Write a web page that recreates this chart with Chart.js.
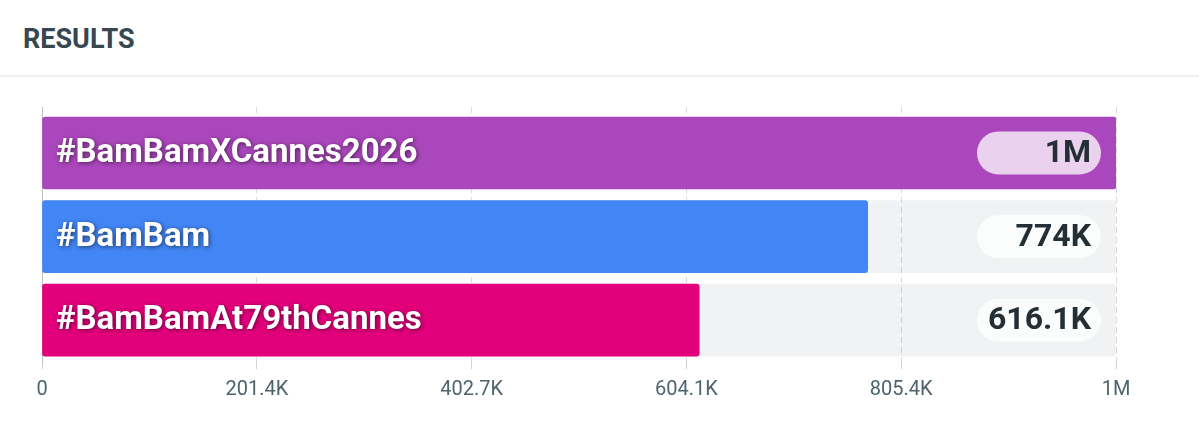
<!DOCTYPE html>
<html>
<head>
<meta charset="utf-8">
<script src="https://cdn.jsdelivr.net/npm/chart.js@4"></script>
<style>
  html, body { margin: 0; padding: 0; background: #fff; }
  body { width: 1199px; height: 431px; position: relative; overflow: hidden; font-family: Roboto, sans-serif; }
  .header { position: absolute; left: 0; top: 0; width: 1199px; height: 75px; border-bottom: 2px solid #eeeff1; }
  .header h2 { margin: 0; position: absolute; left: 23px; top: 23px; font-size: 27px; line-height: 32px; font-weight: 700; color: #37474f; }
  .chart-wrap { position: absolute; left: 0; top: 80px; width: 1199px; height: 351px; }
</style>
</head>
<body>
<div class="header"><h2>RESULTS</h2></div>
<div class="chart-wrap"><canvas id="resultsChart"></canvas></div>
<script>
const hashtags = ["#BamBamXCannes2026", "#BamBam", "#BamBamAt79thCannes"];
const counts = [1006800, 774000, 616100];
const countLabels = ["1M", "774K", "616.1K"];
const barColors = ["#ab47bc", "#4285f4", "#e2007b"];
const tickValues = [0, 201360, 402720, 604080, 805440, 1006800];
const tickLabels = ["0", "201.4K", "402.7K", "604.1K", "805.4K", "1M"];

const maxCount = tickValues[tickValues.length - 1];

// draws the hashtag inside each bar and the value pill at the right end
const barText = {
  id: 'barText',
  afterDatasetsDraw(chart) {
    const ctx = chart.ctx;
    const area = chart.chartArea;
    const meta = chart.getDatasetMeta(0);
    ctx.save();
    ctx.font = "bold 32px Roboto";
    const pillW = Math.max(...countLabels.map(t => ctx.measureText(t).width)) + 21;
    const pillH = 43;
    const pillRight = area.right - 15;

    meta.data.forEach((bar, i) => {
      // hashtag
      ctx.save();
      ctx.font = "bold 33px Roboto";
      ctx.fillStyle = "#ffffff";
      ctx.textAlign = "left";
      ctx.textBaseline = "middle";
      ctx.shadowColor = "rgba(0,0,0,0.55)";
      ctx.shadowBlur = 4;
      ctx.shadowOffsetX = 1;
      ctx.shadowOffsetY = 1;
      ctx.fillText(hashtags[i], area.left + 14, bar.y + 1);
      ctx.restore();

      // pill
      const x0 = pillRight - pillW, y0 = bar.y - pillH / 2;
      ctx.beginPath();
      ctx.roundRect(x0, y0, pillW, pillH, pillH / 2);
      ctx.fillStyle = "rgba(255,255,255,0.75)";
      ctx.fill();

      ctx.font = "bold 32px Roboto";
      ctx.fillStyle = "#232f35";
      ctx.textAlign = "right";
      ctx.textBaseline = "middle";
      ctx.fillText(countLabels[i], pillRight - 10, bar.y + 1);
    });
    ctx.restore();
  }
};

const ctx = document.getElementById("resultsChart").getContext("2d");

let chart = new Chart(ctx, {
  type: 'bar',
  data: {
    datasets: [
      {
        label: 'Posts',
        data: counts.map((c, i) => ({ x: c, y: i })),
        backgroundColor: barColors,
        borderRadius: 3,
        borderSkipped: false,
        barThickness: 72,
        grouped: false,
      },
      {
        label: 'Track',
        data: counts.map((c, i) => ({ x: maxCount, y: i })),
        backgroundColor: "rgba(40,60,90,0.065)",
        borderRadius: 3,
        borderSkipped: false,
        barThickness: 72,
        grouped: false,
      }
    ]
  },
  options: {
    indexAxis: 'y',
    responsive: true,
    maintainAspectRatio: false,
    animation: false,
    layout: { padding: { left: 42, right: 83, top: 27, bottom: 0 } },
    plugins: {
      legend: { display: false },
      tooltip: { enabled: false }
    },
    scales: {
      x: {
        type: 'linear',
        min: 0,
        max: maxCount,
        afterBuildTicks: (scale) => { scale.ticks = tickValues.map(v => ({ value: v })); },
        afterFit: (scale) => { scale.height = 69; },
        grid: {
          color: "#d9d9d9",
          lineWidth: 1,
          drawTicks: true,
          tickLength: 7,
          tickColor: "#cfcfcf",
        },
        border: { display: false, dash: [6, 4] },
        ticks: {
          padding: 9,
          autoSkip: false,
          maxRotation: 0,
          color: "#4f636d",
          font: { family: "Roboto", size: 20 },
          callback: (value, index) => tickLabels[index],
        }
      },
      y: {
        type: 'linear',
        reverse: true,
        offset: false,
        min: -0.55,
        max: 2.5,
        afterFit: (scale) => { scale.width = 0; },
        grid: { display: false, offset: false },
        border: { display: true, color: "#bdbdbd", width: 1 },
        ticks: { display: false }
      }
    }
  },
  plugins: [barText]
});
</script>
</body>
</html>
